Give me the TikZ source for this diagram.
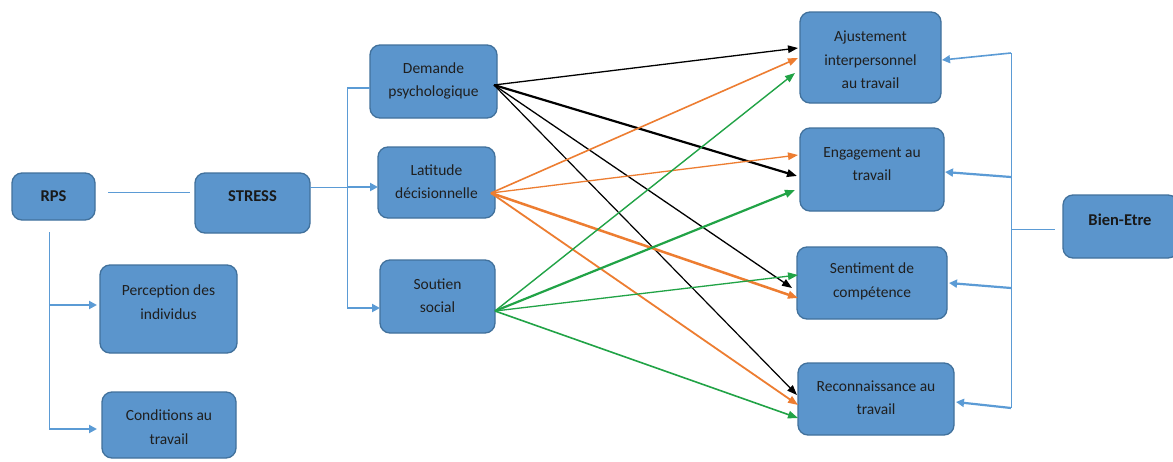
\documentclass[tikz,border=0pt]{standalone}
\usepackage{fontspec}
\setmainfont{Carlito}
\usetikzlibrary{arrows.meta}
\definecolor{boxfill}{HTML}{5B95CC}
\definecolor{boxdraw}{HTML}{41719C}
\definecolor{lnblue}{HTML}{5B9BD5}
\definecolor{orng}{HTML}{ED7D31}
\definecolor{grn}{HTML}{21A346}
\begin{document}
\begin{tikzpicture}[x=1pt,y=-1pt,
 box/.style={draw=boxdraw, fill=boxfill, line width=1.3pt, rounded corners=10pt, inner sep=0pt},
 txt/.style={align=center, font=\fontsize{15.5}{23.5}\selectfont, text=black!88},
 btxt/.style={font=\fontsize{16.5}{20}\selectfont\bfseries, text=black!90},
 thinblue/.style={draw=lnblue, line width=1pt},
 bluearrow/.style={draw=lnblue, line width=2.2pt, -{Triangle[length=8pt,width=8pt]}},
 bluebar/.style={draw=lnblue, line width=2.2pt},
 link/.style={line width=#1, -{Triangle[length=10pt,width=7.5pt]}},
]
\useasboundingbox[fill=white] (0,0) rectangle (1173,461);

% ---- left part
\node[box, minimum width=83pt, minimum height=47pt] (rps) at (53.5,196.5) {};
\node[btxt] (rpst) at (53.5,196.5) {RPS};
\node[box, minimum width=115pt, minimum height=60pt] (stress) at (252.5,203) {};
\node[btxt] (stresst) at (252.5,196) {STRESS};
\node[box, minimum width=137pt, minimum height=88pt] (perc) at (168.5,309) {};
\node[txt] (perct) at (168.5,302) {Perception des\\individus};
\node[box, minimum width=134pt, minimum height=66pt] (cond) at (169,425) {};
\node[txt] (condt) at (169,427) {Conditions au\\travail};

% ---- middle
\node[box, minimum width=127pt, minimum height=73pt] (dem) at (433.5,81.5) {};
\node[txt] (demt) at (433.5,81) {Demande\\psychologique};
\node[box, minimum width=117pt, minimum height=71pt] (lat) at (436.5,182.5) {};
\node[txt] (latt) at (436.5,181.5) {Latitude\\décisionnelle};
\node[box, minimum width=115pt, minimum height=73pt] (sou) at (437.5,296.5) {};
\node[txt] (sout) at (437.5,295.5) {Soutien\\social};

% ---- right
\node[box, minimum width=141pt, minimum height=91pt] (aju) at (870.5,57.5) {};
\node[txt] (ajut) at (870.5,60) {Ajustement\\interpersonnel\\au travail};
\node[box, minimum width=144pt, minimum height=83pt] (eng) at (872,169.5) {};
\node[txt] (engt) at (872,164) {Engagement au\\travail};
\node[box, minimum width=150pt, minimum height=72pt] (sen) at (872,283) {};
\node[txt] (sent) at (872,281.5) {Sentiment de\\compétence};
\node[box, minimum width=156pt, minimum height=72pt] (rec) at (876,399) {};
\node[txt] (rect) at (876,397.5) {Reconnaissance au\\travail};
\node[box, minimum width=115pt, minimum height=63pt] (bien) at (1120.5,226.5) {};
\node[btxt] (bient) at (1120,220) {Bien-Etre};

% ---- coordinates for blue connectors
\coordinate (rpsR) at (108,192);
\coordinate (stL) at (190,192);
\coordinate (rpsV1) at (49,232);
\coordinate (rpsV2) at (49,305);
\coordinate (rpsV3) at (49,429);
\coordinate (percIn) at (97,305);
\coordinate (condIn) at (97,429);
\coordinate (stR) at (310,187);
\coordinate (brT) at (347,88);
\coordinate (brM) at (347,187);
\coordinate (brB) at (347,308);
\coordinate (demIn) at (370,88);
\coordinate (latIn) at (378,187);
\coordinate (souIn) at (380,308);

\draw[thinblue] (rpsR) -- (stL);
\draw[thinblue] (rpsV1) -- (rpsV3);
\draw[bluearrow] (rpsV2) -- (percIn);
\draw[bluearrow] (rpsV3) -- (condIn);
\draw[thinblue] (stR) -- (brM);
\draw[thinblue] (brT) -- (brB);
\draw[bluebar] (brT) -- (demIn);
\draw[bluearrow] (brM) -- (latIn);
\draw[bluearrow] (brB) -- (souIn);

% right bracket
\coordinate (rbT) at (1011,53);
\coordinate (rbE) at (1011,177);
\coordinate (rbM) at (1011,229);
\coordinate (rbS) at (1011,288);
\coordinate (rbB) at (1011,408);
\coordinate (bienL) at (1055,229);
\coordinate (ajuIn) at (942,60);
\coordinate (engIn) at (945,172);
\coordinate (senIn) at (949,283);
\coordinate (recIn) at (956,402);
\draw[thinblue] (rbT) -- (rbB);
\draw[thinblue] (rbM) -- (bienL);
\draw[bluearrow, line width=1.6pt] (rbT) -- (ajuIn);
\draw[bluearrow] (rbE) -- (engIn);
\draw[bluearrow] (rbS) -- (senIn);
\draw[bluearrow] (rbB) -- (recIn);

% ---- coloured links
\coordinate (dOut) at (494,85);
\coordinate (lOut) at (491,193);
\coordinate (sOut) at (495,311);
\coordinate (aj1) at (798,48);
\coordinate (aj2) at (798,58);
\coordinate (aj3) at (795,73);
\coordinate (en1) at (798,155);
\coordinate (en2) at (797,176);
\coordinate (en3) at (795,190);
\coordinate (se1) at (798,275);
\coordinate (se2) at (792,288);
\coordinate (se3) at (798,298);
\coordinate (re1) at (797,395);
\coordinate (re2) at (798,405);
\coordinate (re3) at (798,418);

\draw[link=1.3pt, black] (dOut) -- (aj1);
\draw[link=2.2pt, black] (dOut) -- (en2);
\draw[link=1.3pt, black] (dOut) -- (se2);
\draw[link=1.2pt, black] (dOut) -- (re1);

\draw[link=1.6pt, orng] (lOut) -- (aj2);
\draw[link=1.3pt, orng] (lOut) -- (en1);
\draw[link=2.5pt, orng] (lOut) -- (se3);
\draw[link=1.8pt, orng] (lOut) -- (re2);

\draw[link=1.4pt, grn] (sOut) -- (aj3);
\draw[link=2.2pt, grn] (sOut) -- (en3);
\draw[link=1.3pt, grn] (sOut) -- (se1);
\draw[link=1.6pt, grn] (sOut) -- (re3);
\end{tikzpicture}
\end{document}
